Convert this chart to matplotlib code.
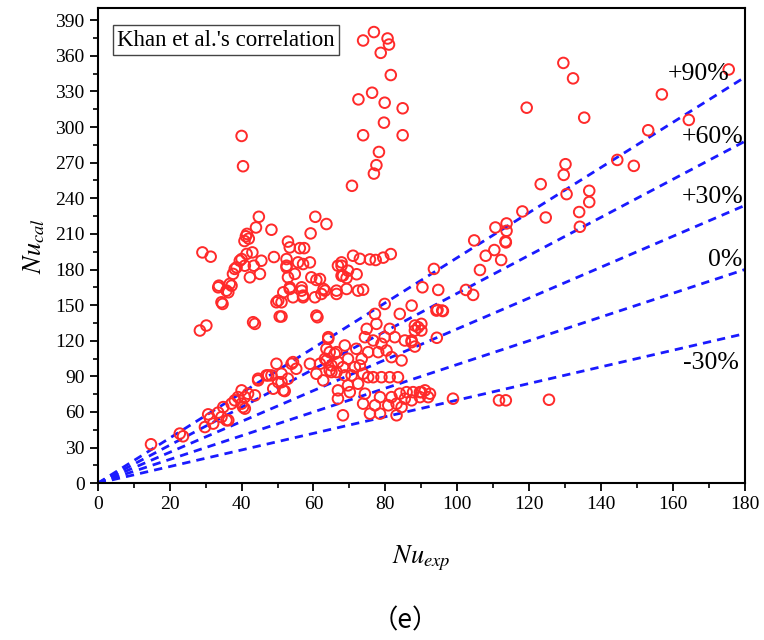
import matplotlib.pyplot as plt
import numpy as np
from matplotlib.ticker import MultipleLocator

plt.rcParams['font.family'] = ['Liberation Serif', 'DejaVu Serif']
plt.rcParams['mathtext.fontset'] = 'stix'

# error bands and their labels
bands = [-0.3, 0.0, 0.3, 0.6, 0.9]
band_labels = ['-30%', '0%', '+30%', '+60%', '+90%']
label_pos = [(170.5, 101), (174.5, 188), (171, 241), (171, 292), (167, 345)]

# points (Nu_exp, Nu_cal)
nu_exp = [
    73.8, 76.8, 80.6, 81.0, 78.7, 81.5, 72.5, 76.3, 79.8, 84.8, 79.6, 73.8, 84.8, 78.2, 77.5, 76.8, 70.7,
    40.0, 40.4,
    44.8, 44.0, 48.3, 41.5, 42.0, 40.8, 41.2, 60.5, 63.6, 59.2, 52.9, 53.4, 56.2, 57.4,
    29.1, 31.4, 40.0, 41.4, 43.0, 45.5, 43.4, 40.9, 39.5, 38.1, 37.6, 42.3, 45.1, 36.7, 33.7,
    35.8, 34.4, 34.7, 33.5, 36.3, 37.2, 38.6, 49.0, 52.5, 52.9, 53.4, 51.6, 49.7, 51.1, 54.3,
    57.1, 56.7, 59.4, 61.8, 62.2, 63.2, 66.4, 66.8, 55.7, 57.1, 59.0, 52.5, 54.8, 53.4, 56.7,
    62.8, 60.4, 57.1, 50.2, 69.2, 67.8, 67.8, 71.0, 67.8, 69.2, 69.6, 60.8, 52.5,
    28.4, 30.2, 43.2, 43.7, 50.6, 60.8, 61.1,
    72.9, 75.7, 77.3, 79.4, 81.5, 68.2, 72.0, 66.4, 72.4, 73.8,
    14.8, 22.8, 23.7, 30.7, 29.8, 32.1, 33.5, 34.9, 36.3, 37.2, 38.1, 39.0, 31.2, 34.4, 35.8,
    40.0, 40.9, 40.4, 43.7, 44.6, 46.9, 48.3, 49.7, 48.8, 51.6, 51.1, 52.9, 53.9, 55.2, 59.0,
    61.8, 62.7, 64.1, 63.6, 65.9, 66.4, 40.0, 40.9, 41.8, 47.4, 44.6, 50.2, 52.0, 51.1, 54.3,
    60.8, 63.2, 64.5, 65.0, 51.1, 64.1,
    79.8, 87.3, 77.1, 84.0, 77.5, 74.8, 81.2, 89.1, 88.2, 90.0, 74.3, 79.8, 82.6, 85.4, 87.3,
    76.6, 78.9, 66.4, 63.6, 68.7, 71.9, 73.4, 75.2, 78.0, 80.3, 81.7, 84.5, 69.6, 66.8, 65.0,
    68.2, 71.5, 72.9, 64.5, 68.7, 70.6, 73.8, 75.2, 76.6, 78.9, 81.2, 83.5, 72.4, 69.6, 66.8,
    70.1, 74.3, 78.5, 81.7, 84.0, 85.9, 87.7, 89.6, 66.8, 73.8, 77.1, 80.8, 83.1, 75.7, 78.5,
    83.1, 68.2, 85.4, 87.3, 84.5, 91.0, 94.2, 95.8, 94.3,
    93.5, 90.3, 94.7, 102.4, 104.4, 106.3, 107.9, 110.3, 112.2, 113.5, 104.7, 94.5, 96.0,
    88.2, 90.0, 87.3, 88.2, 90.0, 92.4, 89.6, 91.9, 98.8, 111.6, 113.5, 125.5,
    175.5, 129.5, 132.2, 119.3, 135.3, 156.9, 164.4, 153.1, 144.5, 149.1, 130.1, 129.6, 123.2,
    130.4, 136.7, 136.7, 133.9, 134.1, 124.6, 118.1, 110.6, 113.7, 113.7, 113.4,
]
nu_cal = [
    372.9, 380.0, 374.6, 369.5, 362.5, 343.8, 323.3, 328.9, 320.5, 315.8, 303.7, 293.1, 293.1, 279.0, 267.9, 260.8, 250.5,
    292.5, 267.0,
    224.4, 215.4, 213.5, 210.0, 206.0, 204.0, 208.0, 224.4, 218.3, 210.4, 203.5, 198.6, 198.0, 198.0,
    194.4, 190.8, 188.8, 193.1, 194.4, 187.4, 183.2, 183.2, 187.4, 180.5, 176.3, 173.4, 176.3, 167.9, 166.4,
    162.2, 152.4, 151.0, 165.0, 160.8, 166.4, 181.8, 190.5, 181.8, 173.4, 165.0, 160.8, 152.4, 152.4, 156.6,
    158.0, 165.0, 173.4, 172.0, 159.4, 162.2, 159.4, 183.2, 186.0, 184.6, 186.0, 188.8, 176.3, 163.6, 162.2,
    163.6, 156.6, 156.6, 153.8, 163.6, 186.0, 183.2, 191.6, 174.8, 172.9, 179.0, 171.2, 183.2,
    128.6, 132.8, 135.6, 134.2, 140.4, 141.2, 139.8,
    189.0, 188.5, 188.0, 190.0, 193.0, 174.8, 176.0, 162.2, 162.2, 163.0,
    32.8, 41.8, 39.5, 58.0, 47.3, 50.2, 59.5, 64.1, 53.0, 67.0, 69.8, 72.5, 54.5, 55.7, 53.0,
    78.2, 72.5, 64.1, 74.0, 86.6, 90.8, 90.8, 100.6, 79.6, 78.2, 85.1, 88.0, 100.6, 96.4, 100.6,
    100.6, 86.6, 121.6, 103.4, 109.0, 93.6, 67.0, 62.8, 75.4, 90.8, 88.0, 85.1, 77.6, 92.2, 102.0,
    92.2, 104.8, 110.4, 93.6, 140.4, 123.0,
    151.0, 149.6, 142.6, 142.6, 134.2, 130.0, 130.0, 131.4, 132.8, 134.2, 123.0, 123.0, 123.0, 120.2, 118.8,
    120.2, 117.4, 110.4, 113.2, 116.0, 113.2, 104.8, 110.4, 110.4, 111.8, 106.2, 103.4, 104.8, 102.0, 99.2,
    97.8, 97.8, 99.2, 95.0, 90.8, 90.8, 92.2, 89.3, 89.3, 89.3, 89.3, 89.3, 83.8, 82.4, 78.2,
    76.7, 75.4, 72.5, 72.5, 75.4, 76.7, 76.7, 76.7, 71.2, 67.0, 65.6, 65.6, 67.0, 58.6, 58.6,
    57.2, 57.2, 71.2, 69.8, 64.1, 78.2, 145.4, 145.4, 122.5,
    180.5, 165.0, 162.8, 162.8, 158.6, 179.6, 191.6, 196.4, 188.0, 202.8, 204.5, 146.0, 145.0,
    128.6, 128.6, 120.2, 115.1, 76.7, 75.4, 72.5, 72.5, 71.2, 69.8, 69.8, 70.3,
    348.5, 354.0, 341.0, 316.3, 307.9, 327.5, 306.0, 297.3, 272.3, 267.3, 268.7, 259.7, 251.9,
    243.5, 246.3, 236.8, 228.4, 216.0, 223.8, 228.9, 215.4, 218.8, 212.6, 203.7,
]

fig = plt.figure(figsize=(7.64, 6.4), dpi=100)
ax = fig.add_axes([0.128, 0.245, 0.847, 0.742])

x_line = np.array([0, 180])
for b, lab, pos in zip(bands, band_labels, label_pos):
    ax.plot(x_line, x_line * (1 + b), color='#1a1aff', lw=2, dashes=(3, 2.2), zorder=1)
    ax.text(pos[0], pos[1], lab, fontsize=18.5, ha='center', va='center', zorder=3)

ax.scatter(nu_exp, nu_cal, s=58, facecolors='none', edgecolors='#ff2a2a',
           linewidths=1.4, zorder=2)

ax.set_xlim(0, 180)
ax.set_ylim(0, 400)
ax.xaxis.set_major_locator(MultipleLocator(20))
ax.xaxis.set_minor_locator(MultipleLocator(10))
ax.yaxis.set_major_locator(MultipleLocator(30))
ax.yaxis.set_minor_locator(MultipleLocator(15))
ax.set_yticks(np.arange(0, 391, 30))
ax.tick_params(which='major', direction='out', length=6, width=1.3, labelsize=14)
ax.tick_params(which='minor', direction='out', length=3.5, width=1.2)
for s in ax.spines.values():
    s.set_linewidth(1.5)

ax.set_xlabel(r'$Nu_{exp}$', fontsize=19, labelpad=22)
ax.set_ylabel(r'$Nu_{cal}$', fontsize=19, labelpad=6)

ax.text(0.03, 0.955, "Khan et al.'s correlation", transform=ax.transAxes, fontsize=16.5,
        ha='left', va='top',
        bbox=dict(boxstyle='square,pad=0.2', facecolor='white', edgecolor='#444444', lw=1))

fig.text(0.53, 0.03, '（e）', fontsize=19, ha='center', va='center',
         family=['Noto Sans CJK SC', 'DejaVu Sans'])

fig.savefig('out.png', dpi=100)
